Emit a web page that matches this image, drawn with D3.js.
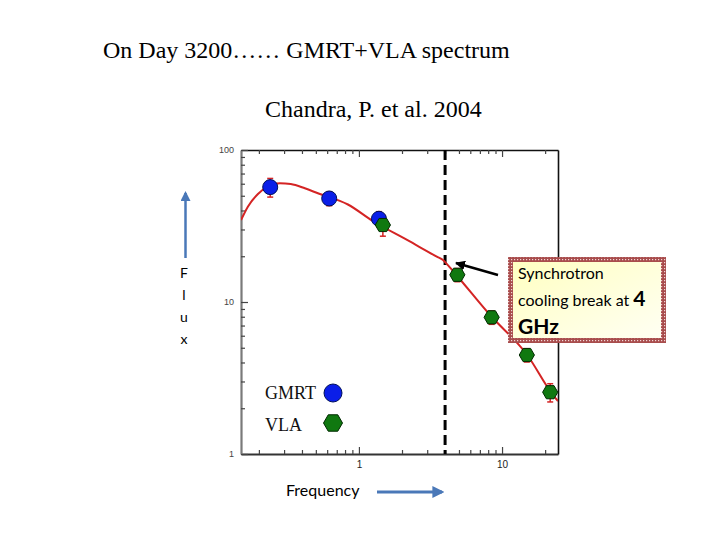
<!DOCTYPE html>
<html><head><meta charset="utf-8">
<script src="https://cdn.jsdelivr.net/npm/d3@7"></script>
<style>body{margin:0;background:#fff} svg{display:block}</style>
</head><body>
<svg id="c" width="720" height="540"></svg>
<script>
// ---- data ----
const gmrtFreq = [0.24, 0.62, 1.38];
const gmrtFlux = [57, 48, 35.3];
const gmrtErr  = [8, 5, 4];
const vlaFreq  = [1.47, 4.87, 8.46, 14.9, 21.7];
const vlaFlux  = [32.1, 15.1, 7.93, 4.48, 2.55];
const vlaErr   = [5, 1.5, 0.8, 0.45, 0.35];
const modelFreq = [0.15, 0.1675, 0.197, 0.231, 0.280, 0.334, 0.419, 0.517, 0.838, 1.25, 2.17, 3.5, 3.87, 4.2, 4.54, 8.24, 15.0, 22.7, 24.6];
const modelFlux = [34.6, 42.4, 51.4, 57.4, 60.4, 59.7, 56.0, 51.9, 43.8, 34.1, 25.6, 19.9, 18.9, 17.4, 16.0, 8.21, 4.48, 2.44, 2.23];
const breakFreq = 4;
const xTickLabels = [1, 10];
const yTickLabels = [1, 10, 100];
const legendNames = ["GMRT", "VLA"];

const svg = d3.select("#c");
const L = 241, R = 558, T = 150, B = 454;
const x = d3.scaleLog().domain([0.15, 24.6]).range([L, R]);
const y = d3.scaleLog().domain([1, 100]).range([B, T]);

const defs = svg.append("defs");
defs.append("clipPath").attr("id", "plotclip").append("rect")
  .attr("x", L).attr("y", T).attr("width", R - L).attr("height", B - T);
const pat = defs.append("pattern").attr("id", "dots").attr("patternUnits", "userSpaceOnUse")
  .attr("width", 3).attr("height", 3);
pat.append("rect").attr("width", 3).attr("height", 3).attr("fill", "#a84c4c");
pat.append("rect").attr("x", 1).attr("y", 1).attr("width", 1.2).attr("height", 1.2).attr("fill", "#f2d6d6");
const grad = defs.append("linearGradient").attr("id", "boxfill").attr("x1", 0).attr("y1", 0).attr("x2", 1).attr("y2", 1);
grad.append("stop").attr("offset", "0%").attr("stop-color", "#ffffc0");
grad.append("stop").attr("offset", "100%").attr("stop-color", "#fffff4");
defs.append("marker").attr("id", "blk").attr("viewBox", "0 0 10 10").attr("refX", 9).attr("refY", 5)
  .attr("markerWidth", 4).attr("markerHeight", 4).attr("orient", "auto")
  .append("path").attr("d", "M0,0 L10,5 L0,10 z").attr("fill", "#000");
defs.append("marker").attr("id", "blu").attr("viewBox", "0 0 10 10").attr("refX", 8).attr("refY", 5)
  .attr("markerWidth", 4).attr("markerHeight", 4).attr("orient", "auto")
  .append("path").attr("d", "M0,0 L10,5 L0,10 z").attr("fill", "#4a78b8");

// ---- titles ----
svg.append("text").attr("x", 103).attr("y", 58).attr("font-family", "Liberation Serif")
  .attr("font-size", 24).attr("fill", "#000").text("On Day 3200…… GMRT+VLA spectrum");
svg.append("text").attr("x", 265).attr("y", 117).attr("font-family", "Liberation Serif")
  .attr("font-size", 24).attr("fill", "#000").text("Chandra, P. et al. 2004");

// ---- axes ----
const isMajorX = d => xTickLabels.includes(d);
const isMajorY = d => yTickLabels.includes(d);
const gB = svg.append("g").attr("transform", `translate(0,${B})`)
  .call(d3.axisBottom(x).tickValues(x.ticks()).tickSize(-4).tickSizeOuter(0).tickPadding(7)
    .tickFormat(d => isMajorX(d) ? d : ""));
const gT = svg.append("g").attr("transform", `translate(0,${T})`)
  .call(d3.axisTop(x).tickValues(x.ticks()).tickSize(-4).tickSizeOuter(0).tickFormat(""));
const gL = svg.append("g").attr("transform", `translate(${L},0)`)
  .call(d3.axisLeft(y).tickValues(y.ticks()).tickSize(-4).tickSizeOuter(0).tickPadding(7)
    .tickFormat(d => isMajorY(d) ? d : ""));
const gR = svg.append("g").attr("transform", `translate(${R},0)`)
  .call(d3.axisRight(y).tickValues([]).tickSizeOuter(0));
[gB, gT].forEach(g => g.selectAll(".tick line").attr("y2", d => isMajorX(d) ? (g === gB ? -7 : 7) : (g === gB ? -4 : 4)));
gL.selectAll(".tick line").attr("x2", d => isMajorY(d) ? 7 : 4);
gB.select(".domain").attr("stroke", "#333").attr("stroke-width", 2);
gT.select(".domain").attr("stroke", "#111").attr("stroke-width", 1.6);
gL.select(".domain").attr("stroke", "#7a7a7a").attr("stroke-width", 2.2);
gR.select(".domain").attr("stroke", "#111").attr("stroke-width", 1.6);
[gB, gT, gL].forEach(g => g.selectAll(".tick line").attr("stroke", "#444").attr("stroke-width", 1.2));
gB.selectAll(".tick text").attr("font-family", "Liberation Sans").attr("font-size", 10).attr("fill", "#222");
gL.selectAll(".tick text").attr("font-family", "Liberation Sans").attr("font-size", 9).attr("fill", "#444");

// ---- break line ----
svg.append("line").attr("x1", x(breakFreq)).attr("x2", x(breakFreq)).attr("y1", T).attr("y2", B)
  .attr("stroke", "#000").attr("stroke-width", 3).attr("stroke-dasharray", "10,5");

// ---- model curve ----
const model = modelFreq.map((f, i) => [f, modelFlux[i]]);
svg.append("path").datum(model).attr("clip-path", "url(#plotclip)")
  .attr("d", d3.line().x(d => x(d[0])).y(d => y(d[1])).curve(d3.curveMonotoneX))
  .attr("fill", "none").attr("stroke", "#d42424").attr("stroke-width", 2);

// ---- error bars ----
function errBars(fr, fl, er) {
  const g = svg.append("g").attr("stroke", "#d42424").attr("stroke-width", 1.5);
  fr.forEach((f, i) => {
    const cx = x(f), y0 = y(fl[i] - er[i]), y1 = y(fl[i] + er[i]);
    g.append("line").attr("x1", cx).attr("x2", cx).attr("y1", y0).attr("y2", y1);
    g.append("line").attr("x1", cx - 3).attr("x2", cx + 3).attr("y1", y0).attr("y2", y0);
    g.append("line").attr("x1", cx - 3).attr("x2", cx + 3).attr("y1", y1).attr("y2", y1);
  });
}
errBars(gmrtFreq, gmrtFlux, gmrtErr);
errBars(vlaFreq, vlaFlux, vlaErr);

// ---- markers ----
const hexPath = r => d3.range(6).map(k => {
  const a = k * Math.PI / 3; return [r * Math.cos(a), r * Math.sin(a)];
});
const hexD = r => "M" + hexPath(r).map(p => p.join(",")).join("L") + "Z";
svg.append("g").selectAll("circle").data(gmrtFreq).join("circle")
  .attr("cx", d => x(d)).attr("cy", (d, i) => y(gmrtFlux[i])).attr("r", 7.5)
  .attr("fill", "#0a1ee8").attr("stroke", "#00105a").attr("stroke-width", 1);
svg.append("g").selectAll("path").data(vlaFreq).join("path")
  .attr("transform", (d, i) => `translate(${x(d)},${y(vlaFlux[i])})`).attr("d", hexD(7.6))
  .attr("fill", "#107810").attr("stroke", "#002a00").attr("stroke-width", 1);

// ---- legend ----
svg.append("text").attr("x", 265).attr("y", 399).attr("font-family", "Liberation Serif")
  .attr("font-size", 18).attr("fill", "#111").text(legendNames[0]);
svg.append("text").attr("x", 265).attr("y", 431).attr("font-family", "Liberation Serif")
  .attr("font-size", 18).attr("fill", "#111").text(legendNames[1]);
svg.append("circle").attr("cx", 333).attr("cy", 393).attr("r", 9)
  .attr("fill", "#0a1ee8").attr("stroke", "#00105a").attr("stroke-width", 1);
svg.append("path").attr("transform", "translate(333,423)").attr("d", hexD(9.5))
  .attr("fill", "#107810").attr("stroke", "#002a00").attr("stroke-width", 1);

// ---- axis captions ----
["F", "l", "u", "x"].forEach((c, i) => {
  svg.append("text").attr("x", 184).attr("y", 278 + i * 22).attr("text-anchor", "middle")
    .attr("font-family", "Lato").attr("font-size", 14).attr("fill", "#000").text(c);
});
svg.append("line").attr("x1", 185.5).attr("y1", 258).attr("x2", 185.5).attr("y2", 193)
  .attr("stroke", "#4a78b8").attr("stroke-width", 2.5).attr("marker-end", "url(#blu)");
svg.append("text").attr("x", 286).attr("y", 496).attr("font-family", "Lato")
  .attr("font-size", 16).attr("fill", "#000").text("Frequency");
svg.append("line").attr("x1", 377).attr("y1", 492).attr("x2", 442).attr("y2", 492)
  .attr("stroke", "#4a78b8").attr("stroke-width", 3).attr("marker-end", "url(#blu)");

// ---- callout ----
svg.append("rect").attr("x", 510.5).attr("y", 259.5).attr("width", 153).attr("height", 81)
  .attr("fill", "url(#boxfill)").attr("stroke", "url(#dots)").attr("stroke-width", 5);
svg.append("text").attr("x", 518).attr("y", 279).attr("font-family", "Lato").attr("font-size", 16)
  .attr("fill", "#000").text("Synchrotron");
const t2 = svg.append("text").attr("x", 518).attr("y", 306).attr("font-family", "Lato")
  .attr("font-size", 16).attr("fill", "#000");
t2.append("tspan").text("cooling break at ");
t2.append("tspan").attr("font-weight", "bold").attr("font-size", 21).text("4");
svg.append("text").attr("x", 518).attr("y", 334).attr("font-family", "Lato").attr("font-weight", "bold")
  .attr("font-size", 21).attr("fill", "#000").text("GHz");
svg.append("line").attr("x1", 498).attr("y1", 275).attr("x2", 456).attr("y2", 263)
  .attr("stroke", "#000").attr("stroke-width", 2.5).attr("marker-end", "url(#blk)");
</script>
</body></html>
